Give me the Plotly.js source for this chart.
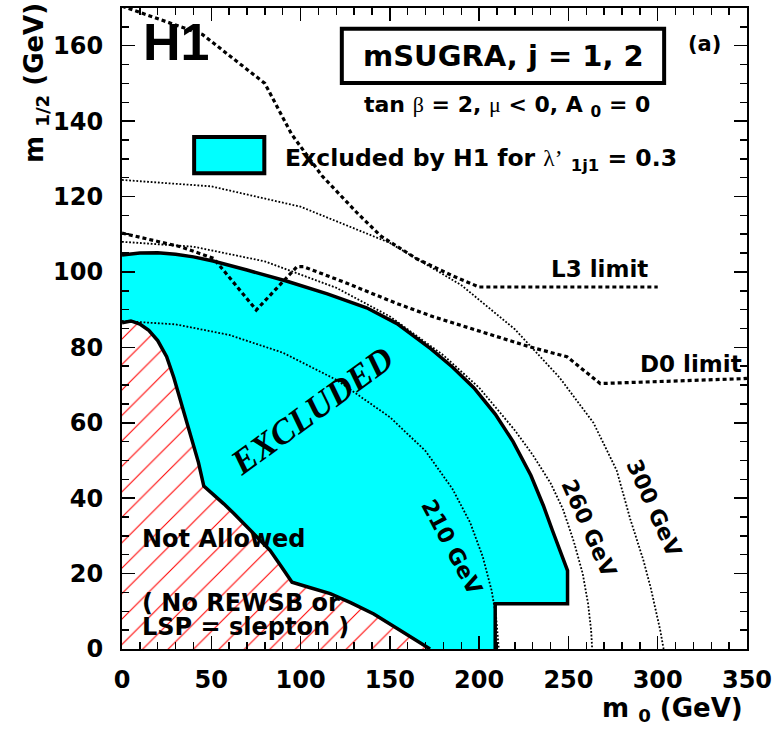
<!DOCTYPE html>
<html><head><meta charset="utf-8">
<script src="https://cdn.plot.ly/plotly-3.0.1.min.js"></script>
<style>body{margin:0;background:#fff}</style>
</head><body>
<div id="chart" style="width:773px;height:731px"></div>
<script>
// tick labels
const xTicks = [0, 50, 100, 150, 200, 250, 300, 350];
const yTicks = [0, 20, 40, 60, 80, 100, 120, 140, 160];

// H1 excluded region: upper limit curve and step at high m0
const exclM0  = [0, 10, 20, 30, 40, 51, 70, 92, 115, 137, 154, 173, 185, 197, 209, 219, 229, 236, 241, 245.5, 249.5, 249.5, 209, 209];
const exclM12 = [104.5, 105, 105.1, 104.7, 104, 102.9, 100.5, 97.6, 94.2, 90.5, 86.3, 79.6, 74.8, 69.3, 62.3, 55, 46, 38, 31.5, 26, 20.8, 12, 12, 0];

// Not allowed region (no REWSB or LSP = slepton)
const naM0  = [0, 5, 10, 15, 20, 25, 29, 33, 36, 39.5, 42.8, 45.8, 53, 57, 62.5, 70, 76, 83, 89, 95.2, 105, 116.6, 128, 141, 155, 165, 172.5];
const naM12 = [86.5, 87, 86.2, 84.5, 81.8, 77.5, 72, 65.5, 60.5, 55.3, 49.5, 43.2, 40.3, 38.5, 36, 32.3, 29.5, 26.1, 22, 17.7, 16.3, 14.7, 12.3, 9.3, 5.2, 2.2, 0];

// squark mass contours
const c210M0  = [0, 30, 60, 90, 120, 150, 170, 185, 195, 202, 207, 209.5, 211];
const c210M12 = [87, 86.1, 83.3, 78.6, 71.4, 61.5, 52.5, 42.5, 33.5, 24.5, 15.5, 8.5, 0];
const c260M0  = [0, 40, 80, 120, 150, 180, 200, 220, 230, 240, 247, 253, 258, 261, 262.7, 263.3];
const c260M12 = [108, 106.7, 102.8, 95.8, 88.2, 77.9, 69.3, 58, 51.5, 44, 37, 28.5, 20, 12, 5, 0];
const c300M0  = [0, 50, 100, 150, 190, 220, 245, 264, 277, 284.6, 292, 296, 301.4, 303.3];
const c300M12 = [124.4, 122.7, 117.3, 107.7, 96.5, 84.8, 72, 60, 47.4, 34.5, 23.5, 16.4, 5, 0];

// L3 and D0 limits
const l3M0  = [0, 45, 80, 95, 112, 132, 145, 165, 185, 200, 300];
const l3M12 = [170.5, 163, 150, 136.5, 125.5, 115.5, 109.5, 103.5, 99, 96, 96];
const d0M0  = [0, 32.7, 51.3, 75.2, 98, 101.6, 126, 154, 174.4, 228.6, 249.2, 267.8, 348, 350];
const d0M12 = [110.3, 106.7, 103.6, 89.9, 101.4, 101.4, 97, 91.6, 88.1, 80.1, 77.5, 70.4, 71.7, 71.8];

const F = 'DejaVu Sans, Liberation Sans, Arial, sans-serif';
const SERIF = "<span style=\"font-family:'Liberation Serif',serif;font-weight:normal\">";

const dotted = {color: 'black', width: 1.8, dash: '1.8px,1.8px'};
const dashed = {color: 'black', width: 3.2, dash: '4px,3px'};
const thick = {color: 'black', width: 3.5};

const data = [
  {x: exclM0.concat([0]), y: exclM12.concat([0]), mode: 'lines', fill: 'toself',
   fillcolor: '#00ffff', line: {width: 0}, hoverinfo: 'skip'},
  {x: naM0.concat([0]), y: naM12.concat([0]), mode: 'lines', fill: 'toself',
   fillcolor: '#ffffff', fillpattern: {shape: '/', fgcolor: '#ff0000', bgcolor: '#ffffff', size: 18, solidity: 0.06},
   line: {width: 0}, hoverinfo: 'skip'},
  {x: c210M0, y: c210M12, mode: 'lines', line: dotted},
  {x: c260M0, y: c260M12, mode: 'lines', line: dotted},
  {x: c300M0, y: c300M12, mode: 'lines', line: dotted},
  {x: exclM0, y: exclM12, mode: 'lines', line: thick},
  {x: naM0, y: naM12, mode: 'lines', line: thick},
  {x: l3M0, y: l3M12, mode: 'lines', line: dashed},
  {x: d0M0, y: d0M12, mode: 'lines', line: dashed},
  // invisible carrier for the minor-tick frame axes
  {x: [xTicks[0]], y: [yTicks[0]], xaxis: 'x2', yaxis: 'y2', mode: 'markers',
   marker: {opacity: 0}, hoverinfo: 'skip'}
];

function ann(text, x, y, size, extra) {
  return Object.assign({text: text, x: x, y: y, xref: 'x', yref: 'y', showarrow: false,
    font: {family: F, size: size, color: 'black', weight: 'bold'}}, extra || {});
}

const axisCommon = {
  ticks: 'inside', ticklen: 13, tickwidth: 1.5, tickcolor: 'black',
  showline: true, linewidth: 2, linecolor: 'black', mirror: 'ticks',
  showgrid: false, zeroline: false,
  tickfont: {family: F, size: 24, color: 'black', weight: 'bold'}
};
const minorCommon = {
  ticks: 'inside', ticklen: 7, tickwidth: 1.5, tickcolor: 'black',
  showline: true, linewidth: 2, linecolor: 'black', mirror: 'ticks',
  showgrid: false, zeroline: false, showticklabels: false, tickmode: 'linear', tick0: 0
};

const layout = {
  width: 773, height: 731,
  margin: {l: 122, r: 26, t: 8, b: 82},
  paper_bgcolor: 'white', plot_bgcolor: 'white', showlegend: false,
  xaxis: Object.assign({}, axisCommon, {
    range: [0, 350], tickmode: 'array', tickvals: xTicks, ticktext: xTicks.map(String),
    ticklabelstandoff: 8
  }),
  yaxis: Object.assign({}, axisCommon, {
    range: [0, 170], tickmode: 'array', tickvals: yTicks, ticktext: yTicks.map(String),
    ticklabelstandoff: 12
  }),
  xaxis2: Object.assign({}, minorCommon, {range: [0, 350], dtick: 10, overlaying: 'x', anchor: 'y2'}),
  yaxis2: Object.assign({}, minorCommon, {range: [0, 170], dtick: 5, overlaying: 'y', anchor: 'x2'}),
  shapes: [
    {type: 'rect', xref: 'x', yref: 'y', x0: 123.1, x1: 303.6, y0: 150.1, y1: 164.5,
     line: {color: 'black', width: 4}, fillcolor: 'rgba(0,0,0,0)'},
    {type: 'rect', xref: 'x', yref: 'y', x0: 40.4, x1: 79.7, y0: 126.2, y1: 135.8,
     line: {color: 'black', width: 4}, fillcolor: '#00ffff'}
  ],
  annotations: [
    ann('H1', 10.9, 161.0, 52, {xanchor: 'left', font: {family: 'Liberation Sans, Arial, sans-serif', size: 52, color: 'black', weight: 'bold'}}),
    ann('mSUGRA, j = 1, 2', 213.5, 157.3, 29),
    ann('(a)', 326.1, 160.5, 21),
    ann('tan ' + SERIF + 'β</span> = 2, ' + SERIF + 'μ</span> &lt; 0, A <sub>0</sub> = 0', 215.7, 144.0, 22),
    ann('Excluded by H1 for ' + SERIF + 'λ’</span> <sub>1j1</sub> = 0.3', 90.3, 129.7, 23.5, {xanchor: 'left'}),
    ann('L3 limit', 267.2, 100.7, 23),
    ann('D0 limit', 318.8, 75.5, 23),
    ann('EXCLUDED', 106.6, 63.3, 35, {textangle: -36, font: {family: 'Liberation Serif, Times New Roman, serif', size: 35, color: 'black', weight: 'bold', style: 'italic'}}),
    ann('210 GeV', 184.9, 27.0, 22, {textangle: 62}),
    ann('260 GeV', 261.6, 32.0, 22, {textangle: 66}),
    ann('300 GeV', 298.1, 37.3, 22, {textangle: 66}),
    ann('Not Allowed', 10.2, 29.2, 24, {xanchor: 'left'}),
    ann('( No REWSB or', 10.2, 12.1, 24, {xanchor: 'left'}),
    ann('LSP = slepton )', 10.2, 5.9, 24, {xanchor: 'left'}),
    {text: 'm <sub>1/2</sub> (GeV)', xref: 'paper', yref: 'y', x: -0.168, y: 150, textangle: -90,
     showarrow: false, font: {family: F, size: 26, color: 'black', weight: 'bold'}},
    {text: 'm <sub>0</sub> (GeV)', xref: 'paper', yref: 'paper', x: 0.9968, y: -0.095, xanchor: 'right', yanchor: 'middle',
     showarrow: false, font: {family: F, size: 26, color: 'black', weight: 'bold'}}
  ]
};

Plotly.newPlot('chart', data, layout, {displayModeBar: false, staticPlot: true});
</script>
</body></html>
